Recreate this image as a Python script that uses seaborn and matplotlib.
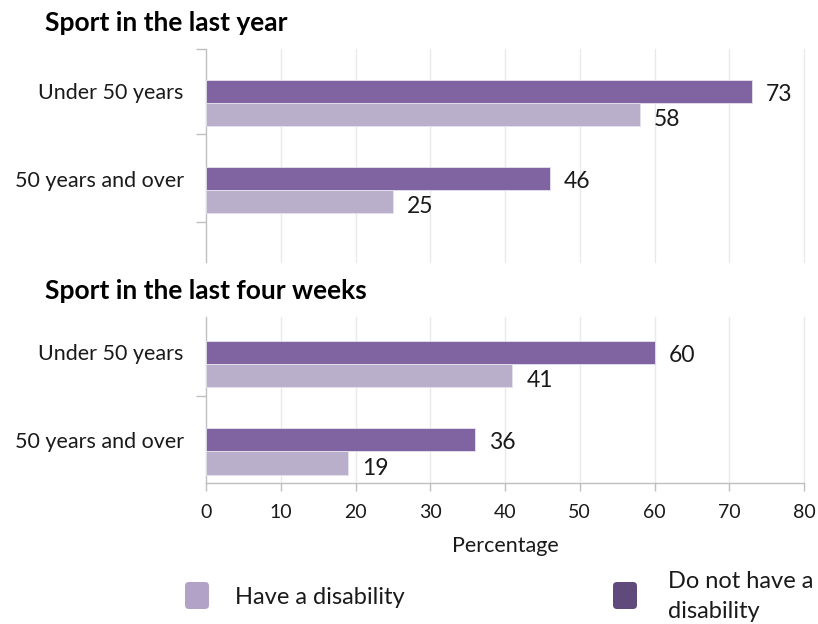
import matplotlib
matplotlib.use("Agg")
import matplotlib.pyplot as plt
from matplotlib.patches import FancyBboxPatch
import seaborn as sns
import pandas as pd

categories = ["Under 50 years", "50 years and over"]
groups = ["Do not have a disability", "Have a disability"]
year_no_disability = [73, 46]
year_disability = [58, 25]
four_weeks_no_disability = [60, 36]
four_weeks_disability = [41, 19]
x_ticks = [0, 10, 20, 30, 40, 50, 60, 70, 80]
titles = ["Sport in the last year", "Sport in the last four weeks"]

dark = "#8064A2"
light = "#B9AFCB"
palette = {groups[0]: dark, groups[1]: light}

sns.set_theme(style="white")
plt.rcParams["font.family"] = ["Lato", "DejaVu Sans"]

W, H = 818, 624
fig = plt.figure(figsize=(W / 100, H / 100), dpi=100)

def frame(no, dis):
    return pd.DataFrame({
        "category": categories * 2,
        "group": [groups[0]] * 2 + [groups[1]] * 2,
        "value": list(no) + list(dis),
    })

def px_axes(left, top, right, bottom):
    return fig.add_axes([left / W, 1 - bottom / H, (right - left) / W, (bottom - top) / H])

ax1 = px_axes(206, 49, 804, 262)
ax2 = px_axes(206, 317, 804, 483)

specs = [
    (ax1, frame(year_no_disability, year_disability), (1.8276, -0.6207), [-0.6207, 0.356, 1.368]),
    (ax2, frame(four_weeks_no_disability, four_weeks_disability), (1.36, -0.537), [0.366]),
]

for ax, df, ylim, minor in specs:
    sns.barplot(data=df, y="category", x="value", hue="group", order=categories,
                hue_order=groups, palette=palette, orient="h", width=0.53,
                saturation=1, edgecolor="#e6e1ee", linewidth=0.6, ax=ax, legend=False,
                zorder=3)
    ax.set_xlim(0, 80)
    ax.set_ylim(*ylim)
    ax.set_xticks(x_ticks)
    for x in x_ticks[1:]:
        ax.axvline(x, color="#e9e9e9", lw=1, zorder=0, clip_on=False)
    ax.set_ylabel("")
    ax.set_xlabel("")
    ax.set_yticks([-0.135, 0.87])
    ax.set_yticklabels(categories, fontsize=15.5, color="#1a1a1a")
    ax.tick_params(axis="y", which="major", length=0, pad=16)
    ax.set_yticks(minor, minor=True)
    ax.tick_params(axis="y", which="minor", length=7, width=1, color="#bfbfbf", direction="out", left=True)
    for s in ["top", "right"]:
        ax.spines[s].set_visible(False)
    ax.spines["left"].set_color("#bfbfbf")
    ax.spines["left"].set_linewidth(1)
    for c, dy in zip(ax.containers, [-2.2, -3.8]):
        for t in ax.bar_label(c, padding=10, fontsize=16.5, color="#1a1a1a"):
            t.xyann = (10, dy)

ax1.spines["bottom"].set_visible(False)
ax1.tick_params(axis="x", bottom=False, labelbottom=False)
ax2.spines["bottom"].set_color("#bfbfbf")
ax2.spines["bottom"].set_linewidth(1)
ax2.tick_params(axis="x", bottom=True, length=6, width=1, color="#bfbfbf", pad=9,
                labelsize=14, labelcolor="#1a1a1a")
ax2.set_xlabel("Percentage", fontsize=15.5, color="#1a1a1a", labelpad=11)

# overlay for titles and legend in pixel coordinates
ov = fig.add_axes([0, 0, 1, 1], zorder=-1)
ov.set_xlim(0, W)
ov.set_ylim(H, 0)
ov.axis("off")
ov.patch.set_alpha(0)

ov.text(45, 23, titles[0], fontsize=19, fontweight="bold", va="center", ha="left", color="#000000")
ov.text(45, 291, titles[1], fontsize=19, fontweight="bold", va="center", ha="left", color="#000000")

ov.add_patch(FancyBboxPatch((185, 582), 24, 27, boxstyle="round,pad=0,rounding_size=4",
                            facecolor="#B3A2C7", edgecolor="none"))
ov.text(235, 597, "Have a disability", fontsize=17, va="center", ha="left", color="#1a1a1a")
ov.add_patch(FancyBboxPatch((613, 582), 24, 27, boxstyle="round,pad=0,rounding_size=4",
                            facecolor="#604A7B", edgecolor="none"))
ov.text(668, 582, "Do not have a", fontsize=17, va="center", ha="left", color="#1a1a1a")
ov.text(668, 612, "disability", fontsize=17, va="center", ha="left", color="#1a1a1a")

fig.savefig("out.png", dpi=100)
